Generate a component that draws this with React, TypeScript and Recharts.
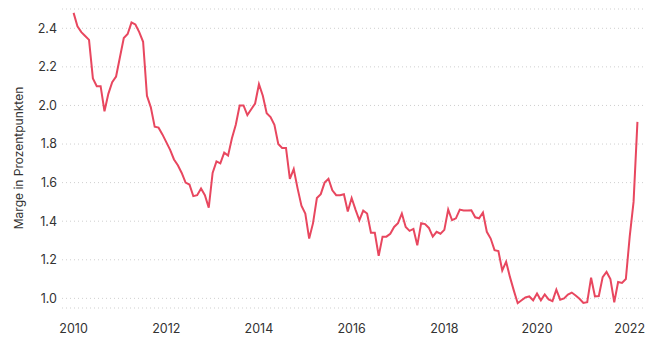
import { LineChart, Line, XAxis, YAxis, CartesianGrid } from "recharts";

// monthly margin, Jan 2010 .. Mar 2022
const START_YEAR = 2010;
const MARGIN = [
  2.48, 2.41, 2.38, 2.36, 2.34, 2.14, 2.1, 2.1, 1.97, 2.06, 2.12, 2.15,
  2.25, 2.35, 2.37, 2.43, 2.42, 2.38, 2.33, 2.05, 1.99, 1.89, 1.885, 1.85,
  1.81, 1.77, 1.72, 1.69, 1.65, 1.6, 1.59, 1.53, 1.535, 1.57, 1.535, 1.47,
  1.65, 1.71, 1.7, 1.755, 1.74, 1.83, 1.9, 2.0, 2.0, 1.95, 1.98, 2.01,
  2.11, 2.05, 1.96, 1.94, 1.9, 1.8, 1.78, 1.78, 1.62, 1.67, 1.57, 1.48,
  1.44, 1.31, 1.39, 1.52, 1.54, 1.6, 1.62, 1.56, 1.535, 1.535, 1.54, 1.45,
  1.52, 1.46, 1.405, 1.455, 1.44, 1.34, 1.34, 1.22, 1.32, 1.32, 1.335, 1.37,
  1.39, 1.44, 1.37, 1.35, 1.36, 1.275, 1.39, 1.385, 1.365, 1.32, 1.345, 1.335,
  1.355, 1.46, 1.405, 1.415, 1.46, 1.455, 1.455, 1.457, 1.42, 1.415, 1.445, 1.345,
  1.31, 1.25, 1.245, 1.145, 1.19, 1.11, 1.04, 0.975, 0.99, 1.005, 1.01, 0.99,
  1.025, 0.99, 1.02, 0.995, 0.986, 1.045, 0.993, 1.0, 1.02, 1.03, 1.015, 0.998,
  0.976, 0.98, 1.107, 1.01, 1.012, 1.11, 1.137, 1.1, 0.98, 1.085, 1.08, 1.1,
  1.32, 1.5, 1.915,
];

const X_TICKS = [2010, 2012, 2014, 2016, 2018, 2020, 2022];
const Y_TICKS = [1.0, 1.2, 1.4, 1.6, 1.8, 2.0, 2.2, 2.4];

const LINE_COLOR = "#e8475f";
const TEXT_COLOR = "#333333";
const FONT = "Inter, 'DejaVu Sans', sans-serif";

const data = MARGIN.map((v, i) => ({ t: START_YEAR + i / 12, margin: v }));

export default function App() {
  return (
    <div style={{ position: "absolute", left: 0, top: 0, background: "#fff" }}>
      <LineChart
        width={650}
        height={355}
        data={data}
        margin={{ top: 9, right: 5, left: 0, bottom: 0 }}
        style={{ fontFamily: FONT }}
      >
        <CartesianGrid
          vertical={false}
          stroke="#cfcfcf"
          strokeDasharray="1 3"
        />
        <XAxis
          dataKey="t"
          type="number"
          domain={[2009.75, 2022.33]}
          ticks={X_TICKS}
          tickFormatter={(v) => String(v)}
          axisLine={false}
          tickLine={false}
          tickSize={6}
          tickMargin={10}
          height={47}
          tick={{ fill: TEXT_COLOR, fontSize: 12.5 }}
        />
        <YAxis
          type="number"
          domain={[0.95, 2.5]}
          ticks={Y_TICKS}
          tickFormatter={(v) => v.toFixed(1)}
          axisLine={false}
          tickLine={false}
          tickSize={3}
          tickMargin={2}
          width={62}
          tick={{ fill: TEXT_COLOR, fontSize: 12.5 }}
          label={{
            content: () => (
              <text
                x={18}
                y={158}
                transform="rotate(-90 18 158)"
                textAnchor="middle"
                dominantBaseline="central"
                fill={TEXT_COLOR}
                fontSize={12}
                fontFamily={FONT}
              >
                Marge in Prozentpunkten
              </text>
            ),
          }}
        />
        <Line
          type="linear"
          dataKey="margin"
          stroke={LINE_COLOR}
          strokeWidth={2}
          dot={false}
          isAnimationActive={false}
        />
      </LineChart>
    </div>
  );
}
